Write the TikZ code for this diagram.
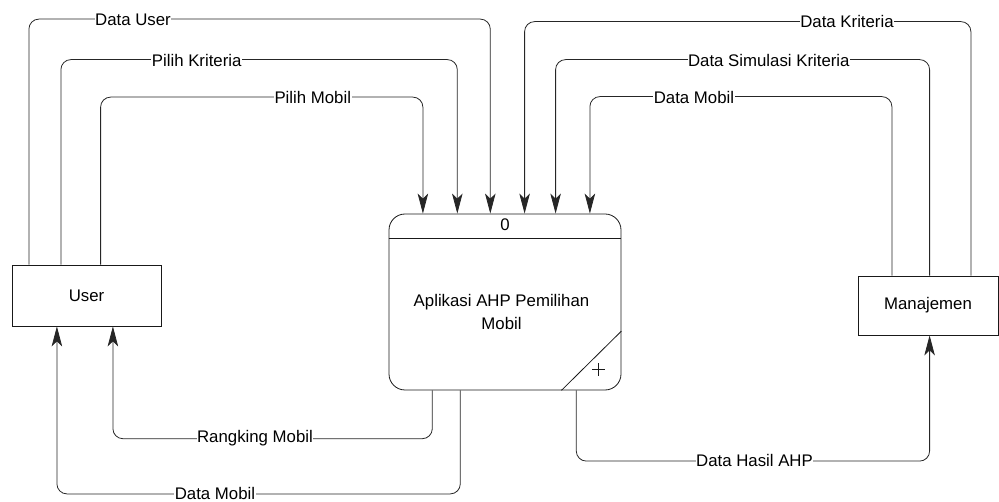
\documentclass[tikz,border=0pt]{standalone}
\usepackage{fontspec}
\setmainfont{Liberation Sans}
\usetikzlibrary{arrows.meta,calc}
\begin{document}
\begin{tikzpicture}[x=1pt,y=-1pt,
  font=\fontsize{16.8}{23}\selectfont,
  line width=0.8pt,
  entity/.style={draw=black!90,rectangle,inner sep=0pt},
  procbox/.style={draw=black!90,rectangle,rounded corners=16pt,inner sep=0pt,
    minimum width=232pt,minimum height=176pt},
  flow/.style={draw=black!85,rounded corners=10pt,
    -{Stealth[length=20pt,width=10.5pt,inset=5pt]}},
  lbl/.style={fill=white,inner sep=0.5pt,text=black}]
\useasboundingbox (0,0) rectangle (999,502);

% external entities and the process
\node[entity,minimum width=149pt,minimum height=61pt] (user) at (86.5,295.5) {User};
\node[entity,minimum width=140pt,minimum height=59pt] (mgr) at (928,305.5) {Manajemen};
\node[procbox] (proc) at (505,302) {};
\draw[draw=black!90] ($(proc.north west)+(0,25.3)$) -- ($(proc.north east)+(0,25.3)$);
\node (pnum) at ($(proc.north)+(0,11)$) {0};
\node[align=center] (ptext) at (501.5,311.5) {Aplikasi AHP Pemilihan\\Mobil};
\draw[draw=black!90] ($(proc.south east)+(-60,0)$) -- ($(proc.south east)+(0,-59.3)$);
\draw[draw=black!90,line width=0.6pt] ($(proc.south east)+(-29,-21)$) -- ++(12.5,0)
      ($(proc.south east)+(-22.75,-27.25)$) -- ++(0,12.5);

% flows from User
\draw[flow] ($(user.north west)+(17.3,0)$) -- ++(0,-245.5) -| ($(proc.north west)+(101.7,0)$);
\draw[flow] ($(user.north west)+(49.3,0)$) -- ++(0,-205) -| ($(proc.north west)+(68.7,0)$);
\draw[flow] ($(user.north west)+(89,0)$) -- ++(0,-167.5) -| ($(proc.north west)+(34.3,0)$);

% flows from Manajemen
\draw[flow] ($(mgr.north west)+(113.3,0)$) -- ++(0,-254) -| ($(proc.north west)+(136,0)$);
\draw[flow] ($(mgr.north west)+(72,0)$) -- ++(0,-216) -| ($(proc.north west)+(167,0)$);
\draw[flow] ($(mgr.north west)+(34.3,0)$) -- ++(0,-179) -| ($(proc.north west)+(201.3,0)$);

% flows out of the process
\draw[flow] ($(proc.south west)+(43.7,0)$) -- ++(0,48.3) -| ($(user.south west)+(101.3,0)$);
\draw[flow] ($(proc.south west)+(71.7,0)$) -- ++(0,103.5) -| ($(user.south west)+(45.3,0)$);
\draw[flow] ($(proc.south west)+(187.7,0)$) -- ++(0,70.7) -| ($(mgr.south west)+(72,0)$);

% flow labels
\node[lbl] (l1) at (133,19.5) {Data User};
\node[lbl] (l2) at (196.7,60) {Pilih Kriteria};
\node[lbl] (l3) at (312.8,97.5) {Pilih Mobil};
\node[lbl] (l4) at (847,22) {Data Kriteria};
\node[lbl] (l5) at (768.8,60) {Data Simulasi Kriteria};
\node[lbl] (l6) at (694,97) {Data Mobil};
\node[lbl] (l7) at (255,438.3) {Rangking Mobil};
\node[lbl] (l8) at (215,493) {Data Mobil};
\node[lbl] (l9) at (754.5,460.7) {Data Hasil AHP};
\end{tikzpicture}
\end{document}
